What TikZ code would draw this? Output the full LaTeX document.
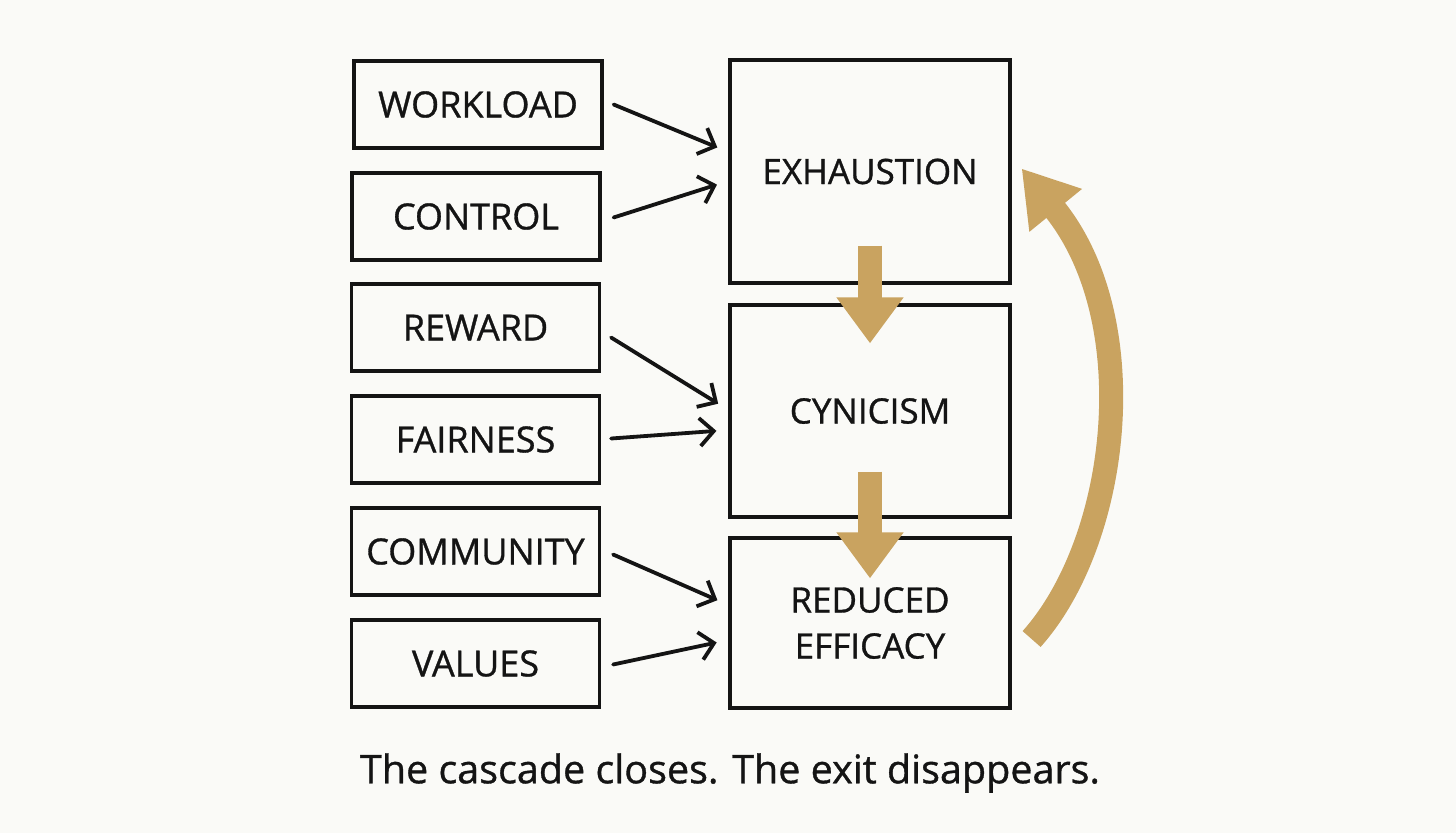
\documentclass[tikz,border=0pt]{standalone}
\usepackage{fontspec}
\setmainfont{Open Sans}[FakeBold=0.9]
\usetikzlibrary{arrows.meta}
\definecolor{bg}{RGB}{250,250,247}
\definecolor{gold}{RGB}{201,163,96}
\definecolor{ink}{RGB}{20,20,20}
\tikzset{
  factor/.style={draw=ink, line width=3.2pt, minimum width=248pt, minimum height=87pt, inner sep=0pt, font=\fontsize{36}{40}\selectfont, text=ink},
  stage/.style={draw=ink, line width=3.2pt, minimum width=280pt, inner sep=0pt, align=center, font=\fontsize{35}{46}\selectfont, text=ink},
  feed/.style={draw=ink, line width=3.8pt, line cap=round, -{Straight Barb[length=14pt,width=28pt,line width=3.8pt]}, shorten >=12pt},
  down/.style={draw=gold, line width=24pt, -{Triangle[width=64pt,length=46pt]}},
}
\begin{document}
\begin{tikzpicture}[x=1pt,y=-1pt]
\fill[bg] (0,0) rectangle (1456,833);
\useasboundingbox (0,0) rectangle (1456,833);

\node[factor] (work) at (478,104.5) {WORKLOAD};
\node[factor] (ctrl) at (476,216.5) {CONTROL};
\node[factor] (rew)  at (475.5,327.5) {REWARD};
\node[factor] (fair) at (475.5,439.5) {FAIRNESS};
\node[factor] (comm) at (475.5,551.5) {COMMUNITY};
\node[factor] (val)  at (475.5,663.5) {VALUES};

\node[stage, minimum height=223pt] (exh) at (870,171.5) {EXHAUSTION};
\node[stage, minimum height=212pt] (cyn) at (870,411) {CYNICISM};
\node[stage, minimum height=170pt] (red) at (870,623) {REDUCED\\EFFICACY};

\draw[feed] ([xshift=10pt]work.east) -- ([yshift=19.5pt]exh.west);
\draw[feed] ([xshift=12pt,yshift=-1pt]ctrl.east) -- ([yshift=-9.5pt]exh.west);
\draw[feed] ([xshift=10pt,yshift=-10pt]rew.east) -- ([yshift=1pt]cyn.west);
\draw[feed] ([xshift=10pt,yshift=1pt]fair.east) -- ([yshift=-19pt]cyn.west);
\draw[feed] ([xshift=12pt,yshift=-3pt]comm.east) -- ([yshift=18pt]red.west);
\draw[feed] ([xshift=12pt,yshift=-1pt]val.east) -- ([yshift=-17pt]red.west);

\draw[down] ([yshift=39pt]exh.south) -- ([yshift=-40pt]cyn.north);
\draw[down] ([yshift=47pt]cyn.south) -- ([yshift=-42pt]red.north);

\draw[gold, line width=24pt, -{Triangle[width=64pt,length=54pt]}]
  ([xshift=20pt,yshift=-16pt]red.east) .. controls (1120,540) and (1145,320) .. ([xshift=10pt,yshift=3pt]exh.east);

\node[font=\fontsize{39.5}{44}\selectfont, text=ink] (cap) at (730,773) {The cascade closes. The exit disappears.};
\end{tikzpicture}
\end{document}
